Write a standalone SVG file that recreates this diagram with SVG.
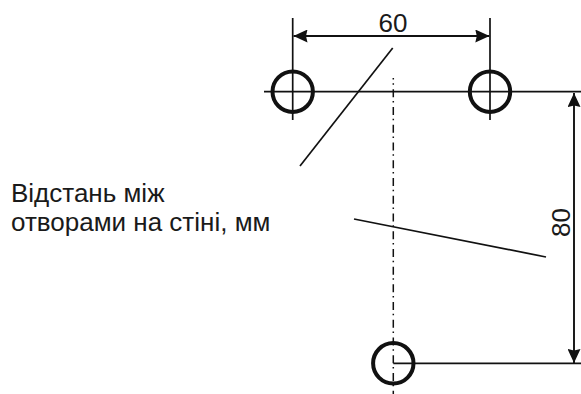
<svg xmlns="http://www.w3.org/2000/svg" width="581" height="394" viewBox="0 0 581 394">
<defs>
<marker id="arrow" markerUnits="userSpaceOnUse" markerWidth="14" markerHeight="13" refX="14" refY="6.500" orient="auto-start-reverse" viewBox="0 0 14 13">
<path d="M0 0L14 6.500L0 13L1.500 6.500Z" fill="#111"/>
</marker>
</defs>
<style>
.t{font-family:"Liberation Sans",Arial,sans-serif;fill:#1a1a1a;font-size:26px}
.h{fill:none;stroke:#111;stroke-width:4}
.l{fill:none;stroke:#111;stroke-width:1.700}
.d{fill:none;stroke:#111;stroke-width:1.900}
.c{fill:none;stroke:#111;stroke-width:1.500;stroke-dasharray:1.500 4.500 8 3.730;stroke-dashoffset:12.400}
</style>
<rect width="581" height="394" fill="#fff"/>
<g id="connectors">
<line class="l" x1="292.700" y1="18" x2="292.700" y2="120"/>
<line class="l" x1="490" y1="18" x2="490" y2="120"/>
<line class="l" x1="264" y1="91.700" x2="581" y2="91.700"/>
<line class="l" x1="393.300" y1="363.300" x2="581" y2="363.300"/>
<line class="c" x1="393.300" y1="78" x2="393.300" y2="394"/>
<line class="l" x1="392.700" y1="48" x2="300" y2="166"/>
<line class="l" x1="354" y1="219" x2="546" y2="257"/>
<line class="d" x1="293.500" y1="36" x2="489.300" y2="36" marker-start="url(#arrow)" marker-end="url(#arrow)"/>
<line class="d" x1="574" y1="93" x2="574" y2="363" marker-start="url(#arrow)" marker-end="url(#arrow)"/>
</g>
<g id="hole-left"><circle class="h" cx="292.700" cy="91.700" r="20.200"/></g>
<g id="hole-right"><circle class="h" cx="490" cy="91.700" r="20.200"/></g>
<g id="hole-bottom"><circle class="h" cx="393.300" cy="363.300" r="20.200"/></g>
<g id="labels">
<text class="t" x="393" y="32" text-anchor="middle">60</text>
<text class="t" transform="translate(569.500 222.500) rotate(-90)" text-anchor="middle">80</text>
<text class="t" x="11" y="201.700">Відстань між</text>
<text class="t" x="11" y="230.600">отворами на стіні, мм</text>
</g>
</svg>
